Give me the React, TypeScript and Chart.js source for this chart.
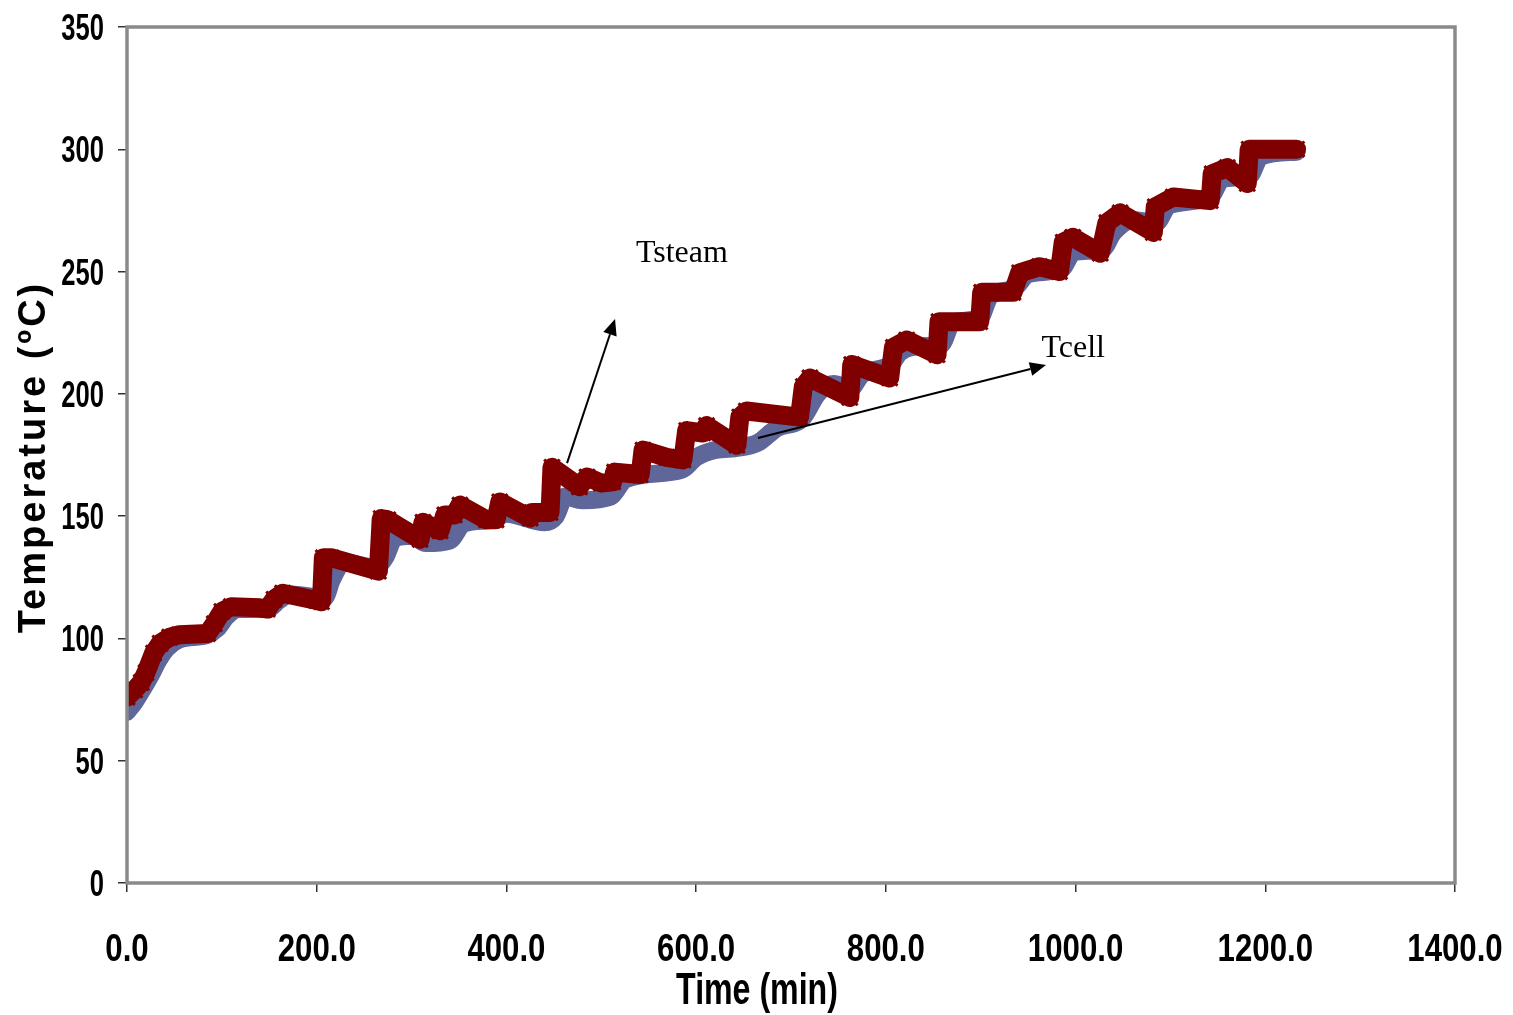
import { useEffect, useRef } from "react";
import { Chart, registerables } from "chart.js";

Chart.register(...registerables);

const WIDTH = 1513;
const HEIGHT = 1015;

// Steam temperature (min, °C)
const steamTime = [
  0, 8, 15, 20, 28, 35, 45, 55, 85, 92, 100, 110, 140, 148, 155, 164, 200, 205,
  207, 215, 265, 268, 275, 309, 312, 330, 335, 345, 351, 379, 389, 393, 425, 427,
  446, 448, 477, 485, 500, 512, 514, 541, 544, 569, 586, 590, 607, 611, 643, 646,
  653, 709, 713, 720, 762, 764, 804, 808, 822, 854, 856, 899, 901, 934, 941, 962,
  983, 987, 997, 1026, 1033, 1047, 1082, 1084, 1103, 1142, 1144, 1160, 1181, 1183,
  1233,
];
const steamTemp = [
  76, 79, 82, 86, 94, 98, 100.5, 101.5, 102, 106, 111, 113, 112.5, 112, 116, 118.5,
  115.5, 115, 133, 133, 127.5, 149, 148.5, 140.5, 147.5, 144, 150.5, 150.5, 154.5,
  148.5, 148.5, 155.8, 149.2, 151.5, 151.5, 170, 162, 166, 163.5, 164, 168, 167,
  177, 174, 173, 185, 184, 187, 179, 190.5, 193, 190.5, 203, 206.5, 198.5, 212,
  206.5, 219, 222, 216, 229.5, 229.5, 241.5, 241.5, 249.5, 252, 250, 262, 264,
  257.5, 270, 274, 266, 276.5, 280.5, 279, 290, 292.5, 286, 300, 300,
];

// Cell temperature (min, °C)
const cellTime = [
  0, 8, 16, 25, 33, 42, 55, 85, 95, 105, 118, 148, 160, 172, 208, 216, 228, 262,
  272, 282, 300, 315, 340, 355, 385, 400, 440, 452, 462, 480, 510, 525, 585, 600,
  620, 645, 665, 685, 712, 728, 745, 762, 775, 805, 815, 840, 858, 870, 899, 910,
  935, 950, 985, 998, 1028, 1040, 1060, 1085, 1098, 1142, 1155, 1183, 1195, 1233,
];
const cellTemp = [
  70, 74, 79, 85, 91, 96, 99.5, 101.5, 104, 109, 112, 112, 115.5, 118, 116.5, 124,
  131, 129, 133, 141, 142, 139, 140, 147, 148.5, 151, 147.5, 150, 158, 156.5, 158,
  165, 169, 174, 177, 178, 180, 186, 190, 200, 204, 202, 208, 212, 217, 219.5, 220,
  229, 231, 240, 243, 249, 251, 258, 259, 266, 271, 270, 277, 280.5, 288, 289, 297,
  299,
];

const xTicks = [0, 200, 400, 600, 800, 1000, 1200, 1400];
const yTicks = [0, 50, 100, 150, 200, 250, 300, 350];

const xTitle = "Time (min)";
const yTitle = "Temperature (ºC)";

// Callout labels and arrows, in data units [time, temperature]
const steamLabel = "Tsteam";
const steamLabelAt = [536.5, 253.9];
const steamArrowFrom = [463.9, 171.7];
const steamArrowTo = [514.5, 230.6];

const cellLabel = "Tcell";
const cellLabelAt = [964.0, 215.1];
const cellArrowFrom = [665.2, 181.95];
const cellArrowTo = [968.8, 211.8];

const STEAM_COLOR = "#800000";
const CELL_COLOR = "#5f6699";
const SANS = "'Liberation Sans', Arial, sans-serif";
const SERIF = "'Liberation Serif', 'Times New Roman', serif";

function squeezedText(
  ctx: CanvasRenderingContext2D,
  text: string,
  x: number,
  y: number,
  sx: number,
  align: CanvasTextAlign
) {
  ctx.save();
  ctx.translate(x, y);
  ctx.scale(sx, 1);
  ctx.textAlign = align;
  ctx.textBaseline = "alphabetic";
  ctx.fillText(text, 0, 0);
  ctx.restore();
}

function arrow(
  ctx: CanvasRenderingContext2D,
  x1: number,
  y1: number,
  x2: number,
  y2: number
) {
  const ang = Math.atan2(y2 - y1, x2 - x1);
  const head = 16;
  const half = 7;
  const bx = x2 - head * Math.cos(ang);
  const by = y2 - head * Math.sin(ang);
  ctx.save();
  ctx.strokeStyle = "#000";
  ctx.fillStyle = "#000";
  ctx.lineWidth = 2;
  ctx.beginPath();
  ctx.moveTo(x1, y1);
  ctx.lineTo(bx, by);
  ctx.stroke();
  ctx.beginPath();
  ctx.moveTo(x2, y2);
  ctx.lineTo(bx + half * Math.sin(ang), by - half * Math.cos(ang));
  ctx.lineTo(bx - half * Math.sin(ang), by + half * Math.cos(ang));
  ctx.closePath();
  ctx.fill();
  ctx.restore();
}

const decorations = {
  id: "decorations",
  afterDraw(chart: any) {
    const { ctx, chartArea } = chart;
    const xs = chart.scales.x;
    const ys = chart.scales.y;
    const { left, right, top, bottom } = chartArea;

    // plot frame
    ctx.save();
    ctx.strokeStyle = "#8a8a8a";
    ctx.lineWidth = 3.5;
    ctx.strokeRect(left, top, right - left, bottom - top);
    ctx.restore();

    ctx.save();
    ctx.fillStyle = "#000";

    // y tick labels
    ctx.font = `bold 36px ${SANS}`;
    for (const v of yTicks) {
      squeezedText(ctx, String(v), left - 23, ys.getPixelForValue(v) + 13, 0.71, "right");
    }

    // x tick labels
    ctx.font = `bold 39px ${SANS}`;
    for (const v of xTicks) {
      squeezedText(ctx, v.toFixed(1), xs.getPixelForValue(v), bottom + 78, 0.8, "center");
    }

    // x title
    ctx.font = `bold 44px ${SANS}`;
    squeezedText(ctx, xTitle, 757, bottom + 121, 0.73, "center");

    // y title
    ctx.save();
    ctx.font = `bold 38px ${SANS}`;
    (ctx as any).letterSpacing = "3px";
    ctx.translate(45, 457);
    ctx.rotate(-Math.PI / 2);
    ctx.textAlign = "center";
    ctx.textBaseline = "alphabetic";
    ctx.fillText(yTitle, 0, 0);
    ctx.restore();

    // callouts
    const px = (p: number[]) => [xs.getPixelForValue(p[0]), ys.getPixelForValue(p[1])];
    const [sa1x, sa1y] = px(steamArrowFrom);
    const [sa2x, sa2y] = px(steamArrowTo);
    arrow(ctx, sa1x, sa1y, sa2x, sa2y);
    const [ca1x, ca1y] = px(cellArrowFrom);
    const [ca2x, ca2y] = px(cellArrowTo);
    arrow(ctx, ca1x, ca1y, ca2x, ca2y);

    ctx.font = `32px ${SERIF}`;
    ctx.textAlign = "left";
    ctx.textBaseline = "alphabetic";
    const [slx, sly] = px(steamLabelAt);
    ctx.fillText(steamLabel, slx, sly);
    const [clx, cly] = px(cellLabelAt);
    ctx.fillText(cellLabel, clx, cly);

    ctx.restore();
  },
};

export default function App() {
  const canvasRef = useRef<HTMLCanvasElement | null>(null);

  useEffect(() => {
    const canvas = canvasRef.current;
    if (!canvas) return;

    const tickGrid = {
      drawOnChartArea: false,
      drawTicks: true,
      tickLength: 9,
      color: "#333",
      lineWidth: 1.5,
    };

    const chart = new Chart(canvas, {
      type: "line",
      data: {
        datasets: [
          {
            label: steamLabel,
            data: steamTime.map((t, i) => ({ x: t, y: steamTemp[i] })),
            borderColor: STEAM_COLOR,
            backgroundColor: STEAM_COLOR,
            borderWidth: 19,
            borderJoinStyle: "round",
            borderCapStyle: "round",
            tension: 0,
            pointStyle: "crossRot",
            pointRadius: 11,
            pointBorderWidth: 3,
            pointBorderColor: STEAM_COLOR,
            pointBackgroundColor: STEAM_COLOR,
            order: 0,
          },
          {
            label: cellLabel,
            data: cellTime.map((t, i) => ({ x: t, y: cellTemp[i] })),
            borderColor: CELL_COLOR,
            backgroundColor: CELL_COLOR,
            borderWidth: 18,
            borderJoinStyle: "round",
            borderCapStyle: "round",
            cubicInterpolationMode: "monotone",
            pointRadius: 0,
            order: 1,
          },
        ],
      },
      options: {
        responsive: false,
        animation: false,
        events: [],
        devicePixelRatio: 1,
        layout: { padding: { top: 27, right: 58, bottom: 0, left: 0 } },
        plugins: {
          legend: { display: false },
          tooltip: { enabled: false },
        },
        scales: {
          x: {
            type: "linear",
            min: 0,
            max: 1400,
            afterBuildTicks: (s: any) => {
              s.ticks = xTicks.map((v) => ({ value: v }));
            },
            afterFit: (s: any) => {
              s.height = 132;
            },
            ticks: { display: false },
            grid: tickGrid,
            border: { display: false },
          },
          y: {
            type: "linear",
            min: 0,
            max: 350,
            afterBuildTicks: (s: any) => {
              s.ticks = yTicks.map((v) => ({ value: v }));
            },
            afterFit: (s: any) => {
              s.width = 127;
            },
            ticks: { display: false },
            grid: tickGrid,
            border: { display: false },
          },
        },
      } as any,
      plugins: [decorations],
    });

    return () => chart.destroy();
  }, []);

  return (
    <div style={{ position: "absolute", left: 0, top: 0, width: WIDTH, height: HEIGHT, background: "#fff" }}>
      <canvas ref={canvasRef} width={WIDTH} height={HEIGHT} style={{ display: "block" }} />
    </div>
  );
}
